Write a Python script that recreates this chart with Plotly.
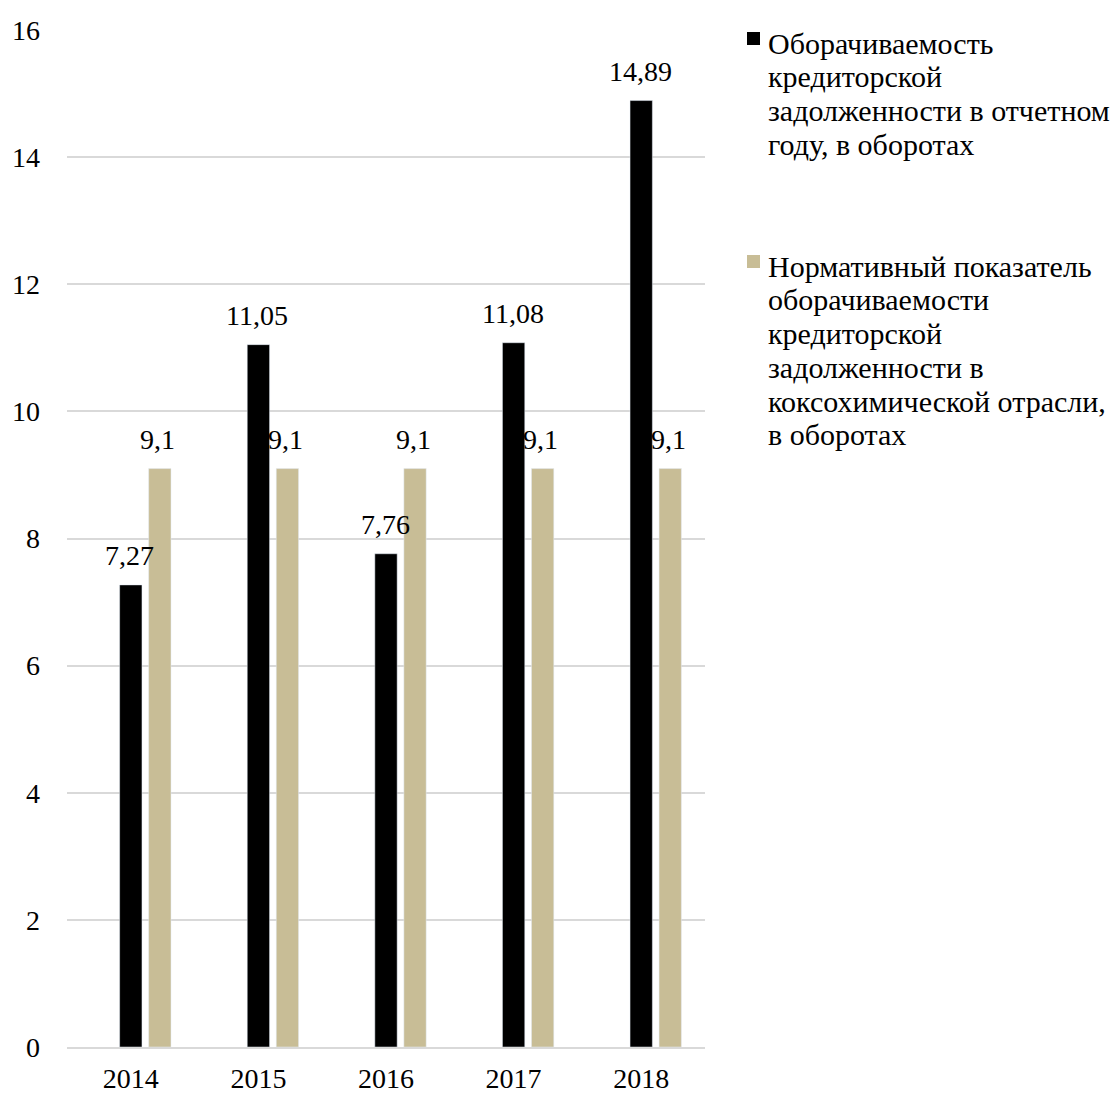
import plotly.graph_objects as go

years = ["2014", "2015", "2016", "2017", "2018"]
turnover = [7.27, 11.05, 7.76, 11.08, 14.89]
normative = [9.1, 9.1, 9.1, 9.1, 9.1]
legend1_lines = ["Оборачиваемость", "кредиторской", "задолженности в отчетном", "году, в оборотах"]
legend2_lines = ["Нормативный показатель", "оборачиваемости", "кредиторской",
                 "задолженности в", "коксохимической отрасли,", "в оборотах"]

BLACK = "#000000"
BEIGE = "#C8BD96"
FONT = "Liberation Serif, Times New Roman, serif"

W, H = 1110, 1097
L, R, T, B = 67, 405, 30, 50
PW, PH = W - L - R, H - T - B

BAR_W = 0.175
OFF1 = -0.0875
OFF2 = 0.14


def fmt(v):
    return ("%g" % v).replace(".", ",")


def px_x(px):
    return (px - L) / PW


def px_y(py):
    return (H - B - py) / PH


fig = go.Figure()
fig.add_trace(go.Bar(x=years, y=turnover, name=" ".join(legend1_lines), marker_color=BLACK,
                     width=BAR_W, offset=OFF1, showlegend=False))
fig.add_trace(go.Bar(x=years, y=normative, name=" ".join(legend2_lines), marker_color=BEIGE,
                     width=BAR_W, offset=OFF2, showlegend=False))

annotations = []
for i, v in enumerate(turnover):
    annotations.append(dict(x=i + OFF1 + BAR_W / 2, y=v, xref="x", yref="y", text=fmt(v),
                            showarrow=False, yanchor="bottom", yshift=12, xshift=-1,
                            font=dict(family=FONT, size=28, color=BLACK)))
for i, v in enumerate(normative):
    annotations.append(dict(x=i + OFF2 + BAR_W / 2, y=v, xref="x", yref="y", text=fmt(v),
                            showarrow=False, yanchor="bottom", yshift=12, xshift=-2,
                            font=dict(family=FONT, size=28, color=BLACK)))

shapes = []
legend_entries = [(legend1_lines, BLACK, 53), (legend2_lines, BEIGE, 276)]
for lines, color, base0 in legend_entries:
    shapes.append(dict(type="rect", xref="paper", yref="paper",
                       x0=px_x(747), x1=px_x(760), y0=px_y(base0 - 8), y1=px_y(base0 - 21),
                       fillcolor=color, line=dict(width=0)))
    for k, line in enumerate(lines):
        base = base0 + k * 33.8
        annotations.append(dict(x=px_x(766), y=px_y(base - 10), xref="paper", yref="paper",
                                text=line, showarrow=False, xanchor="left", yanchor="middle",
                                font=dict(family=FONT, size=30, color=BLACK)))

fig.update_layout(
    width=W, height=H,
    margin=dict(l=L, r=R, t=T, b=B),
    paper_bgcolor="white", plot_bgcolor="white",
    barmode="overlay",
    font=dict(family=FONT, size=28, color=BLACK),
    showlegend=False,
    annotations=annotations,
    shapes=shapes,
)
fig.update_yaxes(range=[0, 16], dtick=2, showgrid=True, gridcolor="#D9D9D9", gridwidth=1.5,
                 zeroline=False, showline=False, ticks="", ticklabelstandoff=26,
                 automargin=False,
                 tickfont=dict(family=FONT, size=28, color=BLACK))
fig.update_xaxes(showline=True, linecolor="#D9D9D9", linewidth=1.5, ticks="",
                 ticklabelstandoff=6, automargin=False, range=[-0.5, 4.5],
                 tickfont=dict(family=FONT, size=28, color=BLACK))

fig.write_html("out.html")
